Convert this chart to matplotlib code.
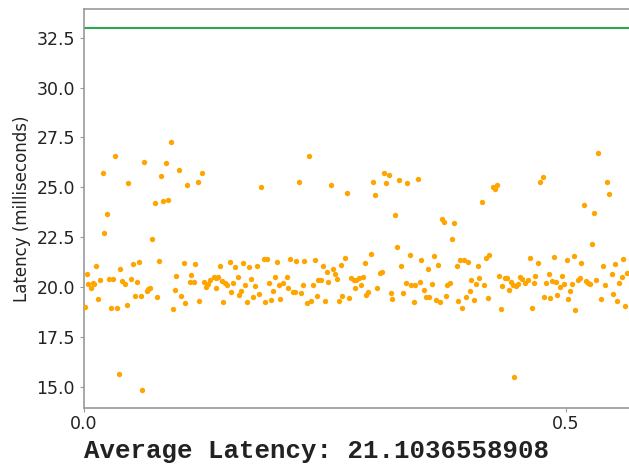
import matplotlib
matplotlib.use("Agg")
import matplotlib.pyplot as plt

# latency samples (time in s, latency in ms)
times = [
    0.0322, 0.0626, 0.0194, 0.0460, 0.0242, 0.0211, 0.0125, 0.0028, 0.0506, 0.0574,
    0.0377, 0.0045, 0.0090, 0.0107, 0.0070, 0.0166, 0.0263, 0.0298, 0.0398, 0.0426,
    0.0491, 0.0547, 0.0651, 0.0667, 0.0529, 0.0592, 0.0007, 0.0148, 0.0277, 0.0343,
    0.0443, 0.0360, 0.0599,
    0.0903, 0.0848, 0.0986, 0.0802, 0.1225, 0.1180, 0.1069, 0.0737, 0.0820, 0.0875,
    0.0709, 0.0775, 0.1035, 0.1155, 0.0958, 0.1114, 0.1097, 0.1139, 0.1246, 0.1311,
    0.1346, 0.1373, 0.1290, 0.1266, 0.1367, 0.0682, 0.0941, 0.0758, 0.1004, 0.1051,
    0.1197, 0.0921,
    0.1837, 0.1412, 0.1512, 0.1567, 0.1654, 0.1716, 0.1799, 0.1865, 0.1900, 0.2000,
    0.1391, 0.1429, 0.1464, 0.1484, 0.1550, 0.1595, 0.1733, 0.1671, 0.1772, 0.1917,
    0.1983, 0.2021, 0.2069, 0.1529, 0.1633, 0.1612, 0.1816, 0.1965, 0.1446, 0.1689,
    0.1751, 0.1882, 0.1938, 0.2038,
    0.2332, 0.2232, 0.2564, 0.2730, 0.2138, 0.2204, 0.2287, 0.2398, 0.2712, 0.2481,
    0.2581, 0.2665, 0.2519, 0.2608, 0.2104, 0.2775, 0.2629, 0.2432, 0.2463, 0.2536,
    0.2380, 0.2270, 0.2121, 0.2166, 0.2190, 0.2249, 0.2415, 0.2681, 0.2748, 0.2353,
    0.2315, 0.2498, 0.2647,
    0.3114, 0.3166, 0.3000, 0.3135, 0.3273, 0.3356, 0.3467, 0.3024, 0.3228, 0.3246,
    0.2979, 0.3384, 0.2914, 0.3294, 0.3495, 0.3090, 0.3069, 0.2899, 0.2851, 0.2799,
    0.2823, 0.2878, 0.2813, 0.3339, 0.3397, 0.3439, 0.3488, 0.3041, 0.2951, 0.2930,
    0.3184, 0.3311, 0.3200, 0.3422,
    0.4131, 0.3716, 0.3737, 0.3844, 0.3817, 0.3636, 0.3571, 0.3671, 0.3869, 0.3906,
    0.3947, 0.3986, 0.4087, 0.4170, 0.4207, 0.3609, 0.3532, 0.3771, 0.3802, 0.4020,
    0.4103, 0.4069, 0.4152, 0.4004, 0.3550, 0.3584, 0.3754, 0.3965, 0.4048, 0.4193,
    0.3654, 0.3692, 0.3882, 0.3920,
    0.4761, 0.4730, 0.4242, 0.4263, 0.4290, 0.4629, 0.4712, 0.4879, 0.4308, 0.4373,
    0.4394, 0.4429, 0.4453, 0.4481, 0.4505, 0.4529, 0.4550, 0.4574, 0.4609, 0.4668,
    0.4684, 0.4824, 0.4795, 0.4861, 0.4899, 0.4342, 0.4411, 0.4913, 0.4778, 0.4840,
    0.4325, 0.4647, 0.4463,
    0.5338, 0.5432, 0.5453, 0.5193, 0.5294, 0.5276, 0.5010, 0.5083, 0.5162, 0.5598,
    0.5387, 0.5515, 0.5633, 0.4962, 0.5478, 0.5581, 0.5128, 0.5148, 0.5211, 0.5235,
    0.5249, 0.5315, 0.5553, 0.4982, 0.5062, 0.4941, 0.5405, 0.5045, 0.5494, 0.5024,
    0.5366, 0.5532, 0.5616, 0.5100,
]
latency = [
    26.57, 26.25, 25.71, 25.20, 23.64, 22.72, 21.04, 20.63, 21.17, 21.25,
    20.90, 20.13, 20.20, 20.15, 19.93, 20.33, 20.41, 20.41, 20.31, 20.16,
    20.41, 20.25, 19.80, 19.90, 19.56, 19.56, 19.01, 19.41, 18.96, 18.93,
    19.09, 15.65, 14.82,
    27.28, 26.22, 25.88, 25.56, 25.71, 25.26, 25.11, 24.23, 24.31, 24.38,
    22.40, 21.30, 21.19, 21.15, 20.55, 20.60, 20.26, 20.26, 20.25, 20.33,
    20.51, 20.46, 20.13, 20.01, 19.93, 19.95, 19.85, 19.50, 19.53, 19.20,
    19.30, 18.89,
    25.01, 21.04, 21.25, 21.00, 21.22, 21.00, 21.07, 21.42, 21.39, 21.25,
    20.50, 20.30, 20.18, 20.08, 20.18, 20.50, 20.38, 20.11, 20.06, 20.21,
    20.51, 20.08, 20.18, 19.75, 19.78, 19.60, 19.65, 19.81, 19.26, 19.26,
    19.48, 19.23, 19.36, 19.38,
    26.57, 25.26, 25.13, 24.73, 21.42, 21.30, 21.30, 21.37, 21.45, 21.04,
    20.89, 21.09, 20.75, 20.66, 20.50, 20.45, 20.41, 20.33, 20.33, 20.25,
    20.11, 20.08, 19.96, 19.75, 19.76, 19.71, 19.53, 19.56, 19.45, 19.30,
    19.20, 19.30, 19.30,
    25.71, 25.60, 25.26, 25.20, 25.38, 25.20, 25.43, 24.61, 23.61, 21.99,
    21.65, 21.59, 21.22, 21.07, 21.37, 20.73, 20.68, 20.50, 20.45, 20.33,
    20.36, 20.10, 19.93, 20.18, 20.11, 20.11, 20.23, 19.96, 19.75, 19.60,
    19.71, 19.68, 19.41, 19.23,
    24.28, 23.39, 23.27, 23.21, 22.42, 21.54, 20.89, 21.10, 21.07, 21.37,
    21.37, 21.25, 21.07, 21.47, 21.60, 20.15, 19.85, 20.11, 20.21, 20.33,
    20.45, 20.15, 20.11, 19.81, 19.48, 19.48, 19.53, 19.48, 19.36, 19.45,
    19.33, 19.26, 19.30, 18.93,
    25.53, 25.26, 25.00, 24.91, 25.11, 21.47, 21.22, 21.52, 20.55, 20.45,
    20.45, 20.26, 20.11, 20.05, 20.15, 20.50, 20.38, 20.21, 20.36, 20.21,
    20.55, 20.66, 20.18, 20.30, 20.26, 20.03, 19.85, 19.60, 19.50, 19.45,
    18.89, 18.96, 15.50,
    26.70, 25.26, 24.65, 24.12, 23.69, 22.17, 21.34, 21.55, 21.22, 21.42,
    21.04, 21.15, 20.72, 20.55, 20.63, 20.51, 20.36, 20.43, 20.30, 20.21,
    20.15, 20.33, 20.21, 20.15, 20.15, 20.01, 20.11, 19.81, 19.66, 19.41,
    19.38, 19.30, 19.04, 18.84,
]
threshold = 33.0
avg_latency = "21.1036558908"

fig = plt.figure(figsize=(6.29, 4.66), dpi=100)
ax = fig.add_axes([0.1335, 0.124, 0.8665, 0.856])

ax.scatter(times, latency, s=15, color="#ffa500", linewidths=0, zorder=3)
ax.axhline(threshold, color="#2ca84a", linewidth=1.5)

ax.set_xlim(0, 0.5657)
ax.set_ylim(13.92, 33.92)
ax.set_xticks([0.0, 0.5])
ax.set_yticks([15.0, 17.5, 20.0, 22.5, 25.0, 27.5, 30.0, 32.5])
ax.set_xticklabels(["0.0", "0.5"])
ax.set_yticklabels(["15.0", "17.5", "20.0", "22.5", "25.0", "27.5", "30.0", "32.5"])

for side in ["left", "bottom", "top"]:
    ax.spines[side].set_color("#999999")
    ax.spines[side].set_linewidth(1.2)
ax.spines["right"].set_visible(False)
ax.tick_params(colors="#222222", labelsize=12.5, length=3, width=0.8)
ax.tick_params(axis="both", color="#999999")
ax.tick_params(axis="x", pad=2)

ax.set_ylabel("Latency (milliseconds)", fontsize=12, color="#222222")
ax.set_xlabel("Average Latency: " + avg_latency, loc="left",
              fontsize=18.5, fontweight="bold", family="Liberation Mono",
              color="#222222", labelpad=4)

fig.savefig("out.png", dpi=100)
